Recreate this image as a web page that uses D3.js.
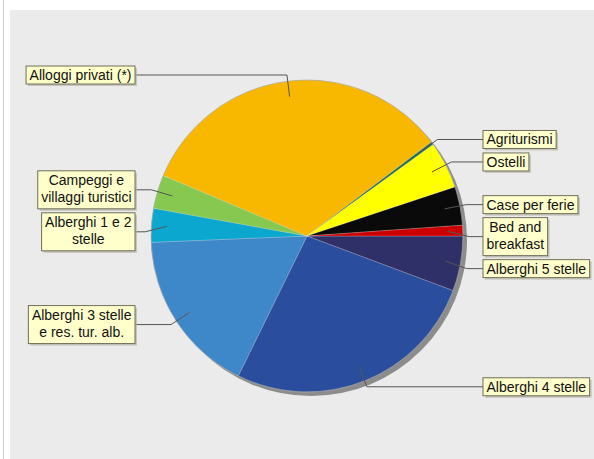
<!DOCTYPE html>
<html lang="en">
<head>
    <meta charset="UTF-8">
    <title>Strutture ricettive</title>
    <style>
        body { margin: 0; background: #fff; font-family: "Liberation Sans", Arial, sans-serif; }
        svg { display: block; }
        .label-text { font-size: 14px; fill: #111; }
        .leader { fill: none; stroke: #555; stroke-width: 1; }
    </style>
</head>
<body>
    <svg id="chart" width="594" height="459"></svg>

    <script src="https://d3js.org/d3.v7.min.js"></script>
    <script>
        // Data (percent share), clockwise from 3 o'clock
        const categories = [
            'Alberghi 5 stelle',
            'Alberghi 4 stelle',
            'Alberghi 3 stelle\ne res. tur. alb.',
            'Alberghi 1 e 2\nstelle',
            'Campeggi e\nvillaggi turistici',
            'Alloggi privati (*)',
            'Agriturismi',
            'Ostelli',
            'Case per ferie',
            'Bed and\nbreakfast'
        ];
        const values = [5.7, 26.6, 17.1, 3.5, 3.5, 33.4, 0.3, 4.9, 4.0, 1.1];
        const colors = ['#2e3067', '#2a4d9d', '#3e87c8', '#0ca7cf', '#87c950',
                        '#f8b800', '#1d6b55', '#ffff00', '#0a0a0a', '#cc0000'];

        const width = 594, height = 459;
        const cx = 307, cy = 236, r = 156;
        const svg = d3.select('#chart');

        // background
        svg.append('rect').attr('width', width).attr('height', height).attr('fill', '#fff');
        svg.append('line').attr('x1', 3.5).attr('x2', 3.5).attr('y1', 0).attr('y2', height)
            .attr('stroke', '#cfcfcf');
        svg.append('rect').attr('x', 10).attr('y', 10).attr('width', width - 10).attr('height', height - 10)
            .attr('fill', '#ebebeb');

        const data = categories.map((c, i) => ({ name: c, value: values[i], color: colors[i] }));

        const pie = d3.pie().sort(null).value(d => d.value)
            .startAngle(Math.PI / 2).endAngle(Math.PI / 2 + 2 * Math.PI);
        const arcs = pie(data);
        const arc = d3.arc().innerRadius(0).outerRadius(r);

        const g = svg.append('g').attr('transform', `translate(${cx},${cy})`);

        // shadow
        g.append('circle').attr('cx', 4).attr('cy', 4).attr('r', r).attr('fill', '#8c8c8c');

        g.selectAll('path.slice')
            .data(arcs)
            .enter().append('path')
            .attr('class', 'slice')
            .attr('d', arc)
            .attr('fill', d => d.data.color)
            .attr('stroke', 'rgba(255,255,255,0.35)')
            .attr('stroke-width', 0.6);

        g.append('circle').attr('r', r).attr('fill', 'none')
            .attr('stroke', '#9a9a9a').attr('stroke-width', 0.6);

        // labels
        const pt = (a, rad) => [cx + rad * Math.sin(a), cy - rad * Math.cos(a)];
        const labels = arcs.map(d => {
            const a = (d.startAngle + d.endAngle) / 2;
            const lines = d.data.name.split('\n');
            const anchor = pt(a, r * 0.9);
            const elbow = pt(a, r * 1.04);
            return {
                name: d.data.name, lines, anchor, elbowX: elbow[0],
                y: elbow[1], h: lines.length === 1 ? 18 : 38,
                right: elbow[0] > cx
            };
        });

        // avoid overlapping boxes on each side
        const gap = 4;
        [true, false].forEach(side => {
            const list = labels.filter(l => l.right === side).sort((a, b) => a.y - b.y);
            for (let i = 1; i < list.length; i++) {
                const prev = list[i - 1], cur = list[i];
                const minY = prev.y + prev.h / 2 + gap + cur.h / 2;
                if (cur.y < minY) cur.y = minY;
            }
        });

        const leftEdge = 135, rightEdge = 483;
        const lg = svg.append('g');

        labels.forEach(l => {
            const grp = lg.append('g');
            const txt = grp.append('text').attr('class', 'label-text').attr('text-anchor', 'middle');
            l.lines.forEach((s, i) => txt.append('tspan').attr('x', 0).attr('dy', i === 0 ? 0 : 17).text(s));
            const w = d3.max(txt.selectAll('tspan').nodes(), n => n.getComputedTextLength()) + 7;
            const x0 = l.right ? rightEdge : leftEdge - w;
            const y0 = l.y - l.h / 2;

            grp.insert('rect', 'text').attr('x', x0 + 2).attr('y', y0 + 2).attr('width', w).attr('height', l.h)
                .attr('fill', '#b5b5a8').attr('opacity', 0.7);
            grp.insert('rect', 'text').attr('x', x0).attr('y', y0).attr('width', w).attr('height', l.h)
                .attr('fill', '#ffffcc').attr('stroke', '#6e6e5a').attr('stroke-width', 1);
            txt.attr('transform', `translate(${x0 + w / 2},${y0 + 14})`);

            const edgeX = l.right ? rightEdge : leftEdge;
            lg.insert('polyline', ':first-child')
                .attr('class', 'leader')
                .attr('points', [l.anchor, [l.elbowX, l.y], [edgeX, l.y]].map(p => p.join(',')).join(' '));
        });
    </script>
</body>
</html>
